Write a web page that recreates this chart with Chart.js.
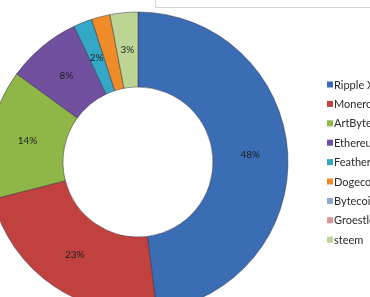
<!DOCTYPE html>
<html>
<head>
<meta charset="utf-8">
<script src="https://cdn.jsdelivr.net/npm/chart.js@4"></script>
<style>
  html, body { margin: 0; padding: 0; background: #fff; }
  body { width: 370px; height: 297px; overflow: hidden; position: relative; }
  .wrap { position: absolute; left: -20px; top: 0; width: 400px; height: 330px; }
  .frame { position: absolute; left: 155px; top: -1px; width: 230px; height: 8px;
    border-left: 1px solid #d4d4d4; border-bottom: 1px solid #d4d4d4; }
</style>
</head>
<body>
<div class="frame"></div>
<div class="wrap"><canvas id="myChart"></canvas></div>
<script>
// coin names, in clockwise order from 12 o'clock
const coins = ["Ripple X", "Monero", "ArtByte", "Ethereum", "Feather", "Dogecoin", "Bytecoin", "Groestlcoin", "steem"];
// share of each coin, %
const shares = [48, 23, 14, 8, 2, 2, 0, 0, 3];
// text printed on each slice (Dogecoin's label is hidden in the original)
const sliceLabels = ["48%", "23%", "14%", "8%", "2%", "", "", "", "3%"];
const colors = ["#3b6db5", "#c0413d", "#8fb747", "#7150a0", "#35a7c6", "#f08b2a", "#8ea8d0", "#d89593", "#bcd595"];

const OFF_X = 20; // canvas is shifted left by this much

// percent text in the middle of each slice
const sliceText = {
  id: "sliceText",
  afterDatasetsDraw(chart) {
    const ctx = chart.ctx;
    const meta = chart.getDatasetMeta(0);
    ctx.save();
    ctx.font = "10px Lato, 'Open Sans', sans-serif";
    ctx.fillStyle = "#1e1e1e";
    ctx.textAlign = "center";
    ctx.textBaseline = "middle";
    meta.data.forEach((arc, i) => {
      if (!sliceLabels[i]) return;
      const p = arc.tooltipPosition();
      ctx.fillText(sliceLabels[i], p.x, p.y);
    });
    ctx.restore();
  },
};

// legend on the right, cut by the window edge
const sideLegend = {
  id: "sideLegend",
  afterDraw(chart) {
    const ctx = chart.ctx;
    const x = 327 + OFF_X;
    const y0 = 84.5;
    const step = 19.4;
    ctx.save();
    ctx.font = "11px Lato, 'Open Sans', sans-serif";
    ctx.textBaseline = "middle";
    chart.data.labels.forEach((name, i) => {
      const y = y0 + i * step;
      ctx.fillStyle = colors[i];
      ctx.fillRect(x, y - 3, 6, 6);
      ctx.fillStyle = "#2a2a2a";
      ctx.fillText(name, x + 7, y + 0.5);
    });
    ctx.restore();
  },
};

const ctx = document.querySelector("#myChart").getContext("2d");
const myChart = new Chart(ctx, {
  type: "doughnut",
  data: {
    labels: coins,
    datasets: [
      {
        data: shares,
        backgroundColor: colors,
        borderColor: "rgba(40, 40, 60, 0.45)",
        borderWidth: 1,
      },
    ],
  },
  options: {
    responsive: true,
    maintainAspectRatio: false,
    animation: false,
    cutout: "50%",
    layout: {
      padding: { left: 7.5, top: 11.5, right: 91.5, bottom: 17.5 },
    },
    plugins: {
      legend: { display: false },
      tooltip: { enabled: false },
    },
  },
  plugins: [sliceText, sideLegend],
});
</script>
</body>
</html>
